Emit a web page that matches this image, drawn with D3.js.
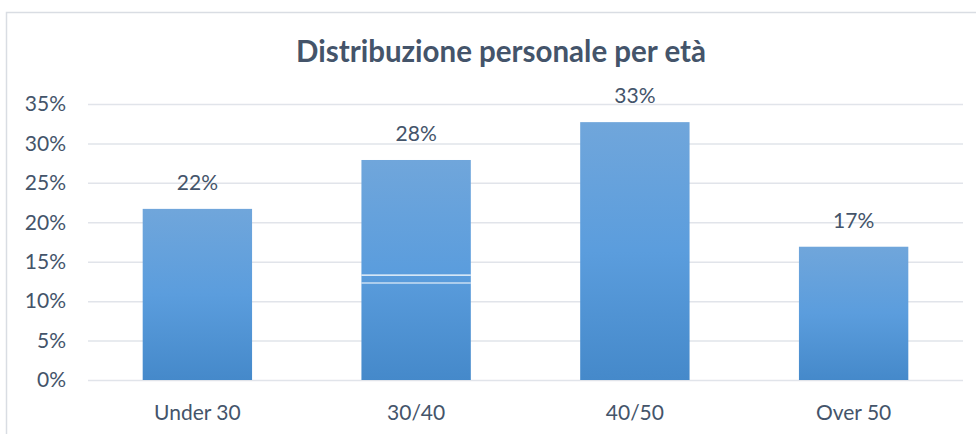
<!DOCTYPE html>
<html>
<head>
<meta charset="utf-8">
<script src="https://cdn.jsdelivr.net/npm/d3@7"></script>
<style>
  body { margin: 0; background: #fff; }
  text { font-family: Lato, "Open Sans", sans-serif; fill: #44546a; }
</style>
</head>
<body>
<div id="vis"></div>
<script>
// values
var categories = ["Under 30", "30/40", "40/50", "Over 50"];
var shares = [21.7, 27.9, 32.7, 16.9];
var labels = ["22%", "28%", "33%", "17%"];
var yTicks = [0, 5, 10, 15, 20, 25, 30, 35];
// two thin white streaks visible inside the 30/40 bar
var streakCategory = "30/40";
var streaks = [13.3, 12.3];

var width = 976, height = 434;
var margin = {top: 104, right: 13, bottom: 54, left: 88};
var plotW = width - margin.left - margin.right;
var plotH = height - margin.top - margin.bottom;

var svg = d3.select("#vis").append("svg")
    .attr("width", width)
    .attr("height", height);

// chart border (cropped on right and bottom)
svg.append("rect")
    .attr("x", 6.5).attr("y", 12.5)
    .attr("width", 1000).attr("height", 500)
    .attr("fill", "none")
    .attr("stroke", "#d9dde3")
    .attr("stroke-width", 1.5);

svg.append("text")
    .attr("x", 501)
    .attr("y", 62)
    .attr("text-anchor", "middle")
    .attr("font-size", 29.5)
    .attr("font-weight", "bold")
    .text("Distribuzione personale per età");

var defs = svg.append("defs");
var grad = defs.append("linearGradient")
    .attr("id", "barGrad")
    .attr("x1", 0).attr("y1", 0).attr("x2", 0).attr("y2", 1);
grad.append("stop").attr("offset", "0%").attr("stop-color", "#70a6db");
grad.append("stop").attr("offset", "50%").attr("stop-color", "#5b9ddd");
grad.append("stop").attr("offset", "100%").attr("stop-color", "#4589ca");

var x = d3.scaleBand().domain(categories).range([0, plotW]).paddingInner(0.5).paddingOuter(0.25);
var y = d3.scaleLinear().domain([0, 35]).range([plotH, 0]);

var g = svg.append("g")
    .attr("transform", "translate(" + margin.left + "," + margin.top + ")");

// gridlines + y labels
var yAxis = d3.axisLeft(y)
    .tickValues(yTicks)
    .tickSize(-plotW)
    .tickPadding(22)
    .tickFormat(function(d){ return d + "%"; });

var gy = g.append("g").attr("class", "axis axis--y").call(yAxis);
gy.select(".domain").remove();
gy.selectAll("line").attr("stroke", "#e1e4ea").attr("stroke-width", 1.5);
gy.selectAll("text").attr("font-size", 21).attr("fill", "#44546a");

// x labels
var xAxis = d3.axisBottom(x).tickSize(0).tickPadding(25);
var gx = g.append("g")
    .attr("class", "axis axis--x")
    .attr("transform", "translate(0," + plotH + ")")
    .call(xAxis);
gx.select(".domain").remove();
gx.selectAll("text").attr("font-size", 21).attr("fill", "#44546a");

var data = categories.map(function(c, i){
    return {cat: c, v: shares[i], label: labels[i]};
});

g.selectAll(".bar")
    .data(data)
    .enter()
    .append("rect")
    .attr("class", "bar")
    .attr("x", function(d){ return x(d.cat); })
    .attr("y", function(d){ return y(d.v); })
    .attr("width", x.bandwidth())
    .attr("height", function(d){ return plotH - y(d.v); })
    .attr("fill", "url(#barGrad)");

g.selectAll(".streak")
    .data(streaks)
    .enter()
    .append("line")
    .attr("class", "streak")
    .attr("x1", x(streakCategory))
    .attr("x2", x(streakCategory) + x.bandwidth())
    .attr("y1", function(d){ return y(d); })
    .attr("y2", function(d){ return y(d); })
    .attr("stroke", "#fff")
    .attr("stroke-width", 1.2);

g.selectAll(".bar-label")
    .data(data)
    .enter()
    .append("text")
    .attr("class", "bar-label")
    .attr("x", function(d){ return x(d.cat) + x.bandwidth() / 2; })
    .attr("y", function(d){ return y(d.v) - 19; })
    .attr("text-anchor", "middle")
    .attr("font-size", 21)
    .text(function(d){ return d.label; });
</script>
</body>
</html>
